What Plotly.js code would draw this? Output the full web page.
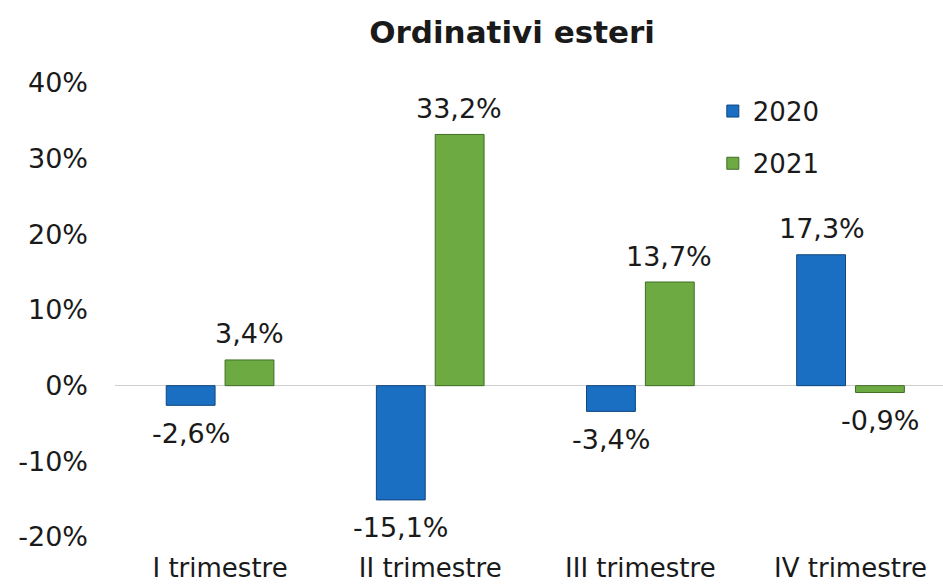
<!DOCTYPE html>
<html><head><meta charset="utf-8">
<script src="https://cdn.plot.ly/plotly-3.0.1.min.js"></script>
<style>body{margin:0;background:#fff}#c{width:943px;height:585px}</style>
</head><body><div id="c"></div>
<script>
const categories = ["I trimestre", "II trimestre", "III trimestre", "IV trimestre"];
const values2020 = [-2.6, -15.1, -3.4, 17.3];
const values2021 = [3.4, 33.2, 13.7, -0.9];
const tickValues = [-20, -10, 0, 10, 20, 30, 40];
const tickLabels = ["-20%", "-10%", "0%", "10%", "20%", "30%", "40%"];
const fmt = v => v.toFixed(1).replace('.', ',') + '%';

const font = "DejaVu Sans, Verdana, sans-serif";
const txtColor = "#1a1a1a";

const traces = [
  {type:'bar', name:'2020', x:categories, y:values2020, legend:'legend',
   marker:{color:'#1b6fc2', line:{color:'#0e467e', width:1}}},
  {type:'bar', name:'2021', x:categories, y:values2021, legend:'legend2',
   marker:{color:'#6dab42', line:{color:'#3f6e24', width:1}}}
];

function labels(vals, dx) {
  return vals.map((v, i) => ({
    x: categories[i], y: v, xref:'x', yref:'y', text: fmt(v), showarrow:false,
    xshift: dx, yshift: v >= 0 ? 26 : -28, yanchor:'middle', xanchor:'center',
    font:{family:font, size:27, color:txtColor}
  }));
}

const legendBase = {font:{family:font, size:26, color:txtColor}, bgcolor:'rgba(0,0,0,0)', xanchor:'left', yanchor:'middle', itemwidth:30};
const layout = {
  width:943, height:585,
  margin:{l:115, r:0, t:83, b:48},
  paper_bgcolor:'#fff', plot_bgcolor:'#fff',
  title:{text:'<b>Ordinativi esteri</b>', font:{family:font, size:31, color:txtColor}, x:0.543, xanchor:'center', y:0.945, yanchor:'middle'},
  barmode:'group', bargap:0.44, bargroupgap:0.17,
  xaxis:{type:'category', range:[-0.5, 3.44], showgrid:false, showline:false, zeroline:false,
         ticks:'', tickfont:{family:font, size:26, color:txtColor}, ticklabelstandoff:13},
  yaxis:{range:[-20, 40], tickvals:tickValues, ticktext:tickLabels, showgrid:false, showline:false,
         zeroline:true, zerolinecolor:'#d0d0d0', zerolinewidth:1.5,
         tickfont:{family:font, size:27, color:txtColor}, ticks:'', ticklabelstandoff:26},
  legend: Object.assign({x:0.722, y:0.938}, legendBase),
  legend2: Object.assign({x:0.722, y:0.823}, legendBase),
  annotations: labels(values2020, -29).concat(labels(values2021, 29)),
  showlegend:true
};
Plotly.newPlot('c', traces, layout, {displayModeBar:false, staticPlot:true});
</script></body></html>
